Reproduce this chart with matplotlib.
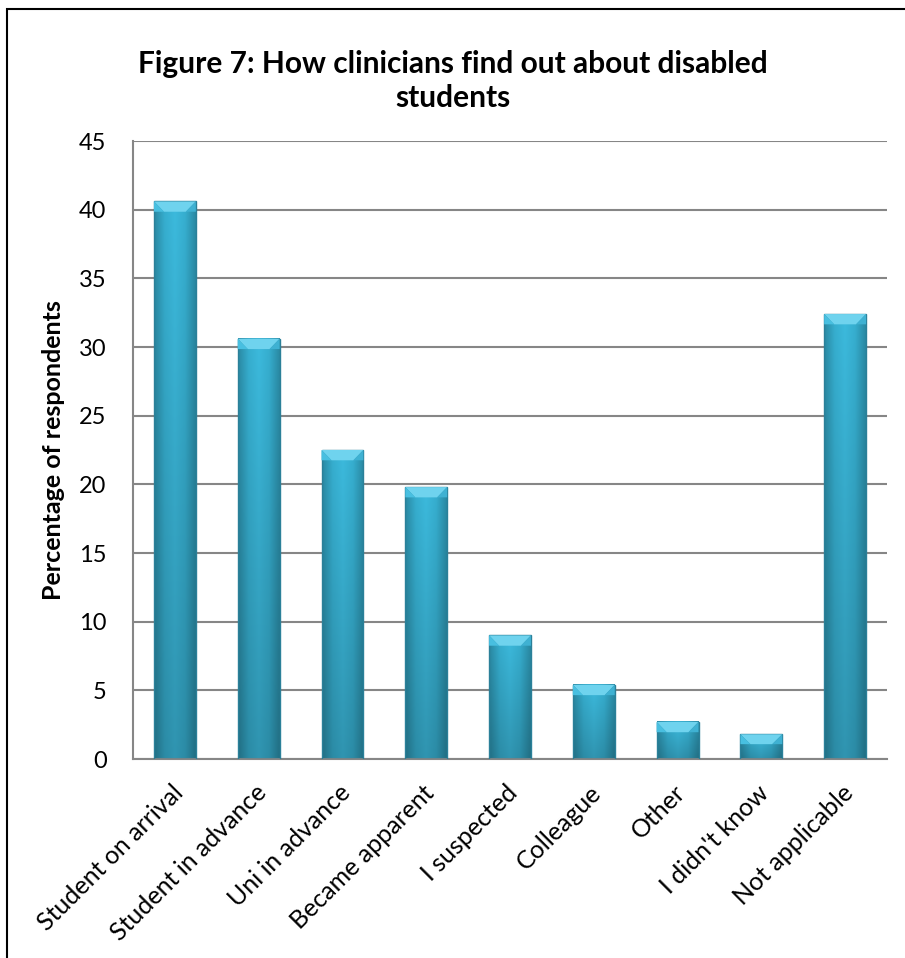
import numpy as np
import matplotlib.pyplot as plt
import matplotlib.patches as mpatches
from matplotlib.colors import LinearSegmentedColormap
import matplotlib.transforms as mtransforms

# survey answers and percentage of respondents
categories = ["Student on arrival", "Student in advance", "Uni in advance",
              "Became apparent", "I suspected", "Colleague", "Other",
              "I didn't know", "Not applicable"]
percent = [40.6, 30.6, 22.5, 19.8, 9.0, 5.4, 2.7, 1.8, 32.4]
yticks = [0, 5, 10, 15, 20, 25, 30, 35, 40, 45]

FONT = "Lato"
GRID = "#868686"

fig = plt.figure(figsize=(9.05, 9.58), dpi=100)
ax = fig.add_axes([133 / 905, 1 - 759 / 958, 754 / 905, 618 / 958])

x = np.arange(len(categories))
width = 0.5

# shading across a bar: darker edges, bright middle, darker toward the base
shade = LinearSegmentedColormap.from_list(
    "bar", ["#2a8aa4", "#36aecf", "#3cbadd", "#36aecf", "#2a8aa4"])
img = shade(np.repeat(np.linspace(0, 1, 64)[None, :], 64, axis=0))
img[..., :3] *= np.linspace(0.80, 1.0, 64)[:, None, None]

for xi, v in zip(x, percent):
    left, right = xi - width / 2, xi + width / 2
    ax.imshow(img, extent=[left, right, 0, v], origin="lower",
              aspect="auto", zorder=2, interpolation="bilinear")
    ax.add_patch(mpatches.Rectangle((left, 0), width, v, fill=False,
                                    edgecolor="#2b8099", lw=1.0, zorder=3))
    # bevel on the top face
    bh = min(0.75, v * 0.4)
    bw = 0.12
    ax.add_patch(mpatches.Polygon(
        [(left, v), (right, v), (right - bw, v - bh), (left + bw, v - bh)],
        closed=True, facecolor="#6fd3ee", edgecolor="none", zorder=3))
    ax.add_patch(mpatches.Polygon(
        [(left, v), (left + bw, v - bh), (left, v - bh)],
        closed=True, facecolor="#48bfe0", edgecolor="none", zorder=3))
    ax.add_patch(mpatches.Polygon(
        [(right, v), (right - bw, v - bh), (right, v - bh)],
        closed=True, facecolor="#3fb1d2", edgecolor="none", zorder=3))

ax.set_xlim(-0.5, len(categories) - 0.5)
ax.set_ylim(0, 45)
ax.set_yticks(yticks)
ax.yaxis.grid(True, color=GRID, lw=1.5)
ax.set_axisbelow(True)
ax.tick_params(axis="both", length=0)
ax.tick_params(axis="y", pad=19)
for s in ["top", "right"]:
    ax.spines[s].set_visible(False)
for s in ["left", "bottom"]:
    ax.spines[s].set_color(GRID)
    ax.spines[s].set_linewidth(1.5)

ax.set_yticklabels([str(t) for t in yticks], fontsize=17, family=FONT)
ax.set_xticks(x)
ax.set_xticklabels(categories, rotation=45, ha="right", va="top",
                   rotation_mode="anchor", fontsize=18, family=FONT)
offset = mtransforms.ScaledTranslation(-4 / 100, -17 / 100, fig.dpi_scale_trans)
for lbl in ax.get_xticklabels():
    lbl.set_transform(lbl.get_transform() + offset)

ax.set_ylabel("Percentage of respondents", fontsize=18, fontweight="bold",
              family=FONT, labelpad=10)

fig.text(0.5, 1 - 81 / 958, "Figure 7: How clinicians find out about disabled\nstudents",
         ha="center", va="center", fontsize=21.5, fontweight="bold",
         family=FONT, linespacing=1.3)

# frame around the chart area
fig.patches.append(mpatches.Rectangle((7 / 905, -0.1), 1.2, 1.1 - 9 / 958,
                                      transform=fig.transFigure, fill=False,
                                      edgecolor="black", lw=1.5))

fig.savefig("out.png", dpi=100)
